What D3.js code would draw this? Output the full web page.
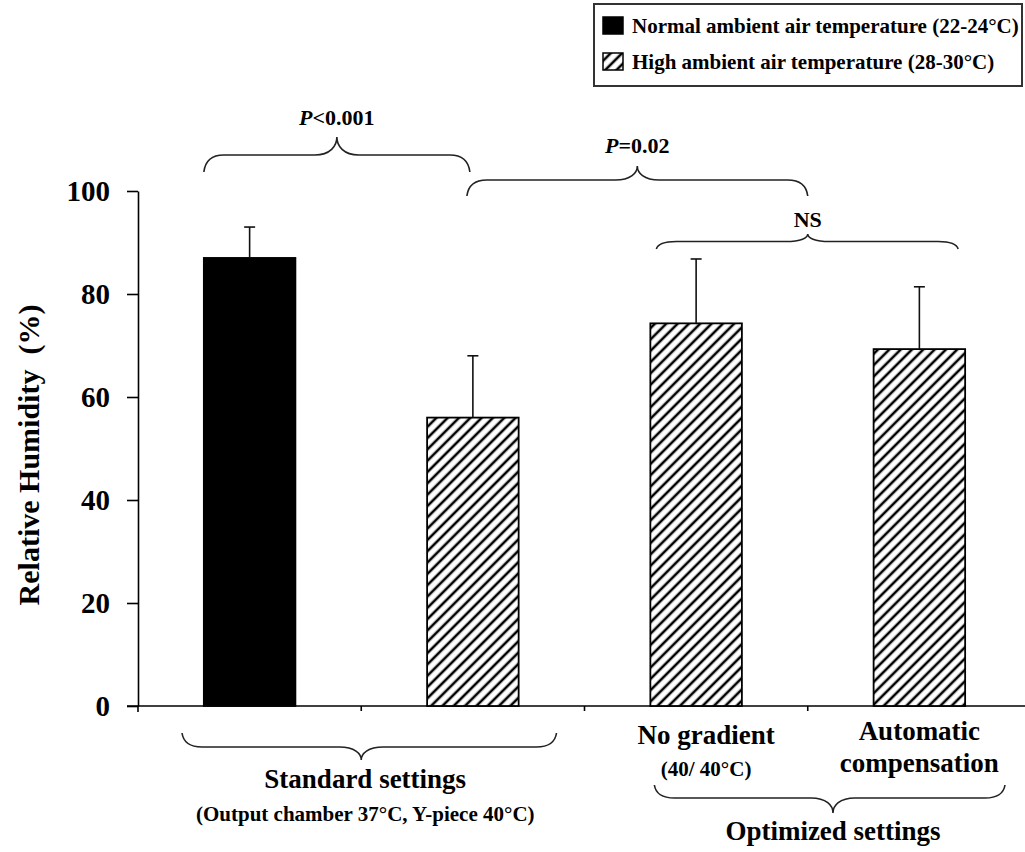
<!DOCTYPE html>
<html>
<head>
<meta charset="utf-8">
<script src="https://cdn.jsdelivr.net/npm/d3@7"></script>
<style>
  body { margin: 0; background: #fff; }
  svg text { font-family: "Liberation Serif", "Times New Roman", serif; font-weight: bold; fill: #000; }
</style>
</head>
<body>
<div id="chart"></div>
<script>
// data
var categories = ["Standard, normal ambient", "Standard, high ambient", "No gradient", "Automatic compensation"];
var groups = ["normal", "high", "high", "high"];
var meanRH = [87, 56, 74.3, 69.3];
var sdRH = [6, 12, 12.5, 12.1];
var yTicks = [0, 20, 40, 60, 80, 100];
var legendLabels = ["Normal ambient air temperature (22-24°C)", "High ambient air temperature (28-30°C)"];

var data = categories.map(function(c, i) {
  return {cat: c, group: groups[i], mean: meanRH[i], sd: sdRH[i]};
});

var W = 1025, H = 852;

var svg = d3.select("#chart")
  .append("svg")
    .attr("width", W)
    .attr("height", H);

// hatch pattern
svg.append("defs")
  .append("pattern")
    .attr("id", "hatch")
    .attr("patternUnits", "userSpaceOnUse")
    .attr("width", 8)
    .attr("height", 8)
    .attr("patternTransform", "rotate(45)")
  .call(function(p) {
    p.append("rect").attr("width", 8).attr("height", 8).attr("fill", "#fff");
    p.append("line")
      .attr("x1", 4).attr("y1", 0).attr("x2", 4).attr("y2", 8)
      .attr("stroke", "#000").attr("stroke-width", 2.6);
  });

var x = d3.scaleBand()
    .domain(categories)
    .range([138, 1031]);

var y = d3.scaleLinear()
    .domain([0, 100])
    .range([706, 191]);

var barW = x.bandwidth() * 0.41;
var fill = function(g) { return g === "normal" ? "#000" : "url(#hatch)"; };

// Y axis
var yAxis = svg.append("g")
    .attr("transform", "translate(138,0)")
    .call(d3.axisLeft(y).tickValues(yTicks).tickSize(11).tickSizeOuter(0).tickPadding(17));
yAxis.select(".domain").attr("stroke", "#000").attr("stroke-width", 1.6);
yAxis.selectAll(".tick line").attr("stroke", "#000").attr("stroke-width", 1.6);
yAxis.selectAll(".tick text")
    .style("font-size", "29px")
    .attr("dy", "0.34em");
// axis pokes a bit below zero
svg.append("line")
    .attr("x1", 138).attr("x2", 138)
    .attr("y1", y(0)).attr("y2", y(0) + 6)
    .attr("stroke", "#000").attr("stroke-width", 1.6);

// X axis (ticks sit between categories)
var xAxis = svg.append("g")
    .attr("transform", "translate(0," + y(0) + ")")
    .call(d3.axisBottom(x).tickValues([]).tickSizeOuter(0));
xAxis.select(".domain").attr("stroke", "#000").attr("stroke-width", 1.6)
    .attr("d", "M127,0H1031");
xAxis.selectAll(".cat-tick")
  .data(categories.slice(1))
  .enter().append("line")
    .attr("class", "cat-tick")
    .attr("x1", function(d) { return x(d); })
    .attr("x2", function(d) { return x(d); })
    .attr("y1", 0).attr("y2", 5)
    .attr("stroke", "#000").attr("stroke-width", 1.6);

// bars
svg.selectAll(".bar")
  .data(data)
  .enter().append("rect")
    .attr("class", "bar")
    .attr("x", function(d) { return x(d.cat) + x.bandwidth() / 2 - barW / 2; })
    .attr("y", function(d) { return y(d.mean); })
    .attr("width", barW)
    .attr("height", function(d) { return y(0) - y(d.mean); })
    .attr("fill", function(d) { return fill(d.group); })
    .attr("stroke", "#000")
    .attr("stroke-width", 1.8);

// error bars (upper only)
var eb = svg.selectAll(".err")
  .data(data)
  .enter().append("g")
    .attr("class", "err")
    .attr("stroke", "#111")
    .attr("stroke-width", 1.6);
eb.append("line")
    .attr("x1", function(d) { return x(d.cat) + x.bandwidth() / 2; })
    .attr("x2", function(d) { return x(d.cat) + x.bandwidth() / 2; })
    .attr("y1", function(d) { return y(d.mean); })
    .attr("y2", function(d) { return y(d.mean + d.sd); });
eb.append("line")
    .attr("x1", function(d) { return x(d.cat) + x.bandwidth() / 2 - 5.5; })
    .attr("x2", function(d) { return x(d.cat) + x.bandwidth() / 2 + 5.5; })
    .attr("y1", function(d) { return y(d.mean + d.sd); })
    .attr("y2", function(d) { return y(d.mean + d.sd); });

// curly brace helper
function brace(x1, x2, xm, yTip, yFlat, yPeak) {
  var r = 20, rp = 22;
  var p = d3.path();
  p.moveTo(x1, yTip);
  p.quadraticCurveTo(x1 + 2, yFlat, x1 + r, yFlat);
  p.lineTo(xm - rp, yFlat);
  p.bezierCurveTo(xm - rp * 0.3, yFlat, xm, yFlat + (yPeak - yFlat) * 0.5, xm, yPeak);
  p.bezierCurveTo(xm, yFlat + (yPeak - yFlat) * 0.5, xm + rp * 0.3, yFlat, xm + rp, yFlat);
  p.lineTo(x2 - r, yFlat);
  p.quadraticCurveTo(x2 - 2, yFlat, x2, yTip);
  return p.toString();
}

function cx(i) { return x(categories[i]) + x.bandwidth() / 2; }

var braces = [
  [cx(0) - barW / 2, cx(1) - 3, (cx(0) - barW / 2 + cx(1) - 3) / 2, 172, 155, 137],
  [cx(1) - 6, x(categories[3]), (cx(1) - 6 + x(categories[3])) / 2, 196, 180, 166],
  [cx(2) - barW / 2 + 6, cx(3) + barW / 2 - 7, x(categories[3]), 249, 241.5, 234],
  [x(categories[0]) + 44, x(categories[1]) + x.bandwidth() - 28, x(categories[1]), 733, 747, 760],
  [cx(2) - barW / 2 + 4, 1005, 833, 785, 798, 813]
];
svg.selectAll(".brace")
  .data(braces)
  .enter().append("path")
    .attr("class", "brace")
    .attr("d", function(b) { return brace.apply(null, b); })
    .attr("fill", "none")
    .attr("stroke", "#222")
    .attr("stroke-width", 1.6);

// p-value labels
function pLabel(xp, yp, rest) {
  var t = svg.append("text")
      .attr("x", xp).attr("y", yp)
      .attr("text-anchor", "middle")
      .style("font-size", "22px");
  t.append("tspan").style("font-style", "italic").text("P");
  t.append("tspan").text(rest);
}
pLabel(braces[0][2], 125, "<0.001");
pLabel(braces[1][2], 153, "=0.02");
svg.append("text")
    .attr("x", braces[2][2]).attr("y", 227)
    .attr("text-anchor", "middle")
    .style("font-size", "22px")
    .text("NS");

// category labels
function label(xp, yp, size, txt) {
  svg.append("text")
      .attr("x", xp).attr("y", yp)
      .attr("text-anchor", "middle")
      .style("font-size", size + "px")
      .text(txt);
}
label(x(categories[1]) + 4, 788, 27, "Standard settings");
label(x(categories[1]) + 4, 821, 21, "(Output chamber 37°C, Y-piece 40°C)");
label(cx(2) + 10, 744, 27, "No gradient");
label(cx(2) + 10, 776, 21, "(40/ 40°C)");
label(cx(3), 740, 27, "Automatic");
label(cx(3), 772, 27, "compensation");
label(833, 840, 27, "Optimized settings");

// y axis title
svg.append("text")
    .attr("transform", "rotate(-90)")
    .attr("x", -455)
    .attr("y", 39)
    .attr("text-anchor", "middle")
    .style("font-size", "30px")
    .style("white-space", "pre")
    .text("Relative Humidity  (%)");

// legend
var legend = svg.append("g");
legend.append("rect")
    .attr("x", 594).attr("y", 4)
    .attr("width", 428).attr("height", 82)
    .attr("fill", "#fff")
    .attr("stroke", "#333")
    .attr("stroke-width", 2);
var lg = legend.selectAll(".lg")
  .data(legendLabels)
  .enter().append("g")
    .attr("class", "lg")
    .attr("transform", function(d, i) { return "translate(0," + (i * 36) + ")"; });
lg.append("rect")
    .attr("x", 603).attr("y", 17)
    .attr("width", 20).attr("height", 17)
    .attr("fill", function(d, i) { return i === 0 ? "#000" : "url(#hatch)"; })
    .attr("stroke", "#000")
    .attr("stroke-width", 1.5);
lg.append("text")
    .attr("x", 632).attr("y", 33)
    .style("font-size", "21px")
    .text(function(d) { return d; });
</script>
</body>
</html>
